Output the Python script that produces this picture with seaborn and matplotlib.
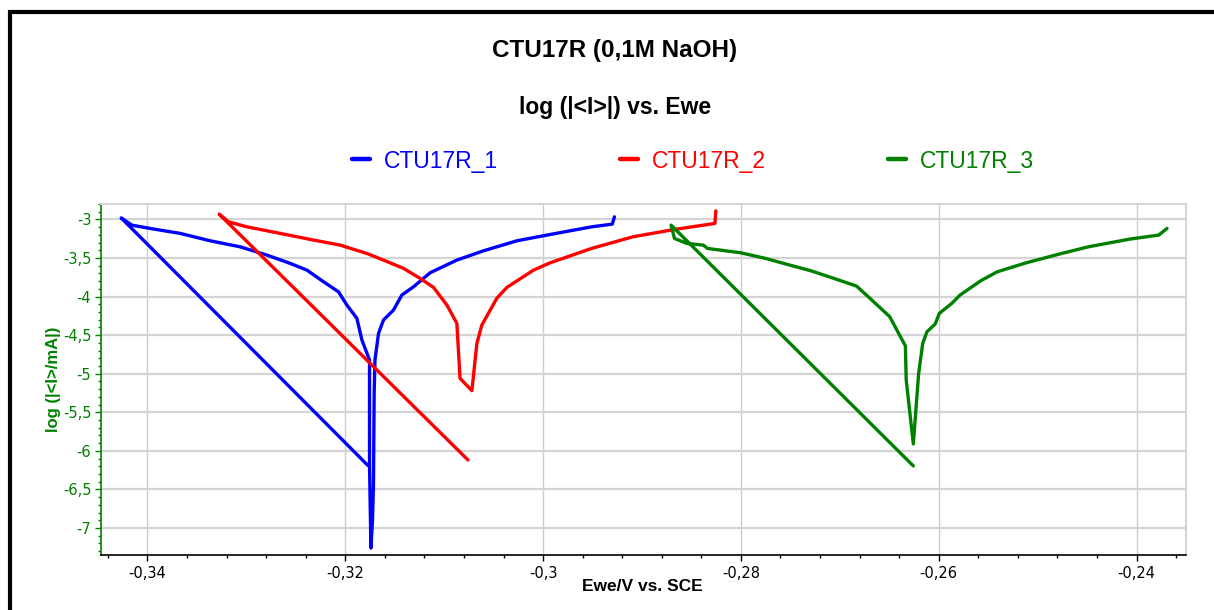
import matplotlib
matplotlib.use('Agg')
import matplotlib.pyplot as plt
import seaborn as sns
import pandas as pd
from matplotlib.lines import Line2D
from matplotlib.patches import Rectangle
from matplotlib.ticker import MultipleLocator, FuncFormatter

# ---------------- data ----------------
series_names = ['CTU17R_1', 'CTU17R_2', 'CTU17R_3']
series_colors = ['#0000FF', '#FF0000', '#008000']

E1 = [-0.31771, -0.34266, -0.34158, -0.33973, -0.33669, -0.33366, -0.33063, -0.32793,
      -0.32557, -0.32388, -0.32220, -0.32069, -0.31984, -0.31883, -0.31832, -0.31755,
      -0.31755, -0.31741, -0.31725, -0.31715, -0.31708, -0.31700, -0.31664, -0.31614,
      -0.31513, -0.31428, -0.31310, -0.31142, -0.30872, -0.30603, -0.30265, -0.29928,
      -0.29510, -0.29300, -0.29279]
I1 = [-6.19, -2.98, -3.074, -3.117, -3.181, -3.277, -3.355, -3.462,
      -3.57, -3.657, -3.808, -3.938, -4.11, -4.282, -4.563, -4.823,
      -6.2, -7.26, -6.9, -6.42, -5.25, -4.82, -4.477, -4.304,
      -4.175, -3.98, -3.873, -3.691, -3.527, -3.407, -3.277, -3.195,
      -3.096, -3.061, -2.966]

E2 = [-0.30760, -0.33275, -0.33181, -0.32995, -0.32658, -0.32355, -0.32052, -0.31782,
      -0.31614, -0.31411, -0.31243, -0.31108, -0.30973, -0.30872, -0.30840, -0.30720,
      -0.30670, -0.30620, -0.30467, -0.30366, -0.30097, -0.29928, -0.29510, -0.29091,
      -0.28672, -0.28263, -0.28254]
I2 = [-6.118, -2.931, -3.031, -3.096, -3.181, -3.259, -3.333, -3.441,
      -3.527, -3.635, -3.765, -3.881, -4.11, -4.347, -5.06, -5.22,
      -4.61, -4.37, -4.02, -3.881, -3.657, -3.562, -3.376, -3.225,
      -3.13, -3.052, -2.889]

E3 = [-0.26257, -0.28706, -0.28672, -0.28547, -0.28380, -0.28338, -0.28003, -0.27752,
      -0.27543, -0.27291, -0.27040, -0.26831, -0.26706, -0.26496, -0.26337, -0.26329,
      -0.26257, -0.26203, -0.26162, -0.26119, -0.26036, -0.25994, -0.25868, -0.25785,
      -0.25575, -0.25409, -0.25115, -0.24781, -0.24487, -0.24069, -0.23776, -0.23692]
I3 = [-6.195, -3.074, -3.246, -3.311, -3.333, -3.376, -3.432, -3.505,
      -3.579, -3.666, -3.773, -3.864, -4.01, -4.26, -4.64, -5.08,
      -5.91, -4.995, -4.607, -4.456, -4.356, -4.218, -4.088, -3.981,
      -3.795, -3.679, -3.562, -3.449, -3.355, -3.255, -3.203, -3.117]

title_text = 'CTU17R (0,1M NaOH)'
subtitle_text = 'log (|<I>|) vs. Ewe'
x_label = 'Ewe/V vs. SCE'
y_label = 'log (|<I>/mA|)'

# ---------------- style ----------------
sns.set_style('whitegrid')
plt.rcParams['font.family'] = ['DejaVu Sans']
plt.rcParams['text.color'] = 'black'
GREEN = '#008000'
GRID = '#d4d4d4'

W, H = 1214, 610
fig = plt.figure(figsize=(W / 100, H / 100), dpi=100)
fig.patch.set_facecolor('white')
ax = fig.add_axes([101 / W, 1 - 555 / H, (1186 - 101) / W, (555 - 204) / H])

df = pd.concat([
    pd.DataFrame({'E': E1, 'logI': I1, 'series': series_names[0]}),
    pd.DataFrame({'E': E2, 'logI': I2, 'series': series_names[1]}),
    pd.DataFrame({'E': E3, 'logI': I3, 'series': series_names[2]}),
], ignore_index=True)

palette = dict(zip(series_names, series_colors))
sns.lineplot(data=df, x='E', y='logI', hue='series', palette=palette,
             sort=False, estimator=None, lw=2.4, legend=False, ax=ax)

ax.set_xlim(-0.3447, -0.2350)
ax.set_ylim(-7.35, -2.80)
ax.xaxis.set_major_locator(MultipleLocator(0.02))
ax.xaxis.set_minor_locator(MultipleLocator(0.004))
ax.yaxis.set_major_locator(MultipleLocator(0.5))
ax.yaxis.set_minor_locator(MultipleLocator(0.1))

fmt = FuncFormatter(lambda v, p: f'{round(v, 4):g}'.replace('.', ','))
ax.xaxis.set_major_formatter(fmt)
ax.yaxis.set_major_formatter(fmt)

ax.grid(True, which='major', axis='y', color=GRID, lw=1.6)
ax.grid(True, which='major', axis='x', color='#cccccc', lw=1.0)
ax.grid(False, which='minor')

ax.tick_params(axis='x', which='both', bottom=True, direction='out', color='black')
ax.tick_params(axis='x', which='major', length=4, width=1, labelsize=10.5, pad=4, labelcolor='black')
ax.tick_params(axis='x', which='minor', length=2, width=1)
ax.tick_params(axis='y', which='both', left=True, direction='out', color=GREEN)
ax.tick_params(axis='y', which='major', length=4, width=1, labelsize=10.5, pad=3, labelcolor=GREEN)
ax.tick_params(axis='y', which='minor', length=2, width=1)

for side in ['top', 'right']:
    ax.spines[side].set_color(GRID)
    ax.spines[side].set_linewidth(1.4)
ax.spines['left'].set_color(GREEN)
ax.spines['left'].set_linewidth(1.2)
ax.spines['bottom'].set_color('black')
ax.spines['bottom'].set_linewidth(1.2)

ax.set_xlabel(x_label, fontsize=12.5, fontweight='bold', family='Liberation Sans', color='black')
ax.set_ylabel(y_label, fontsize=12, fontweight='bold', family='Liberation Sans', color=GREEN)
ax.xaxis.set_label_coords(0.4986, -0.069)
ax.yaxis.set_label_coords(-0.037, 0.5)

fig.text(615 / W, 1 - 57 / H, title_text, ha='center', va='baseline', color='black',
         fontsize=17.5, fontweight='bold', family='Liberation Sans')
fig.text(615 / W, 1 - 114 / H, subtitle_text, ha='center', va='baseline', color='black',
         fontsize=16.5, fontweight='bold', family='Liberation Sans')

handles = [Line2D([], [], color=c, lw=3.2) for c in series_colors]
fig.legend(handles, series_names, loc='center', bbox_to_anchor=(693 / W, 1 - 161 / H),
           ncol=3, frameon=False, prop={'family': 'Liberation Sans', 'size': 16.5},
           labelcolor='linecolor', handlelength=0.79, handletextpad=0.61,
           columnspacing=5.33, borderpad=0, borderaxespad=0)

# outer frame (left and top edges visible)
fig.add_artist(Rectangle((10 / W, -0.2), 1.3, 1 - 12 / H + 0.2, transform=fig.transFigure,
                         fill=False, edgecolor='black', lw=3, clip_on=False))

fig.savefig('out.png', dpi=100, facecolor='white')
